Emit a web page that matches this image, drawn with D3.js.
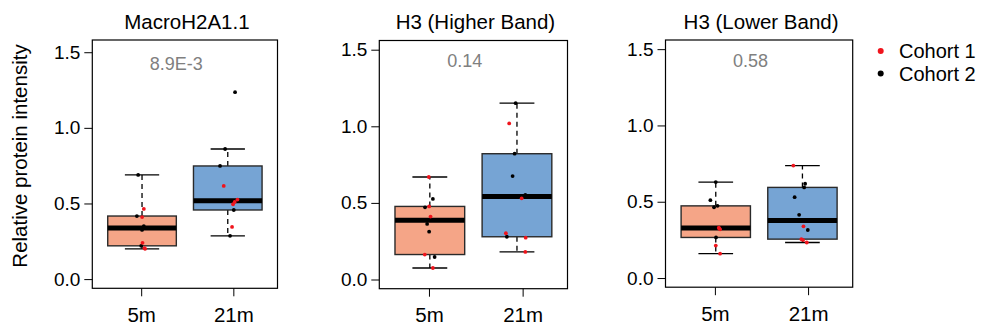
<!DOCTYPE html>
<html>
<head>
<meta charset="utf-8">
<script src="https://cdn.jsdelivr.net/npm/d3@7"></script>
<style>
  html, body { margin: 0; padding: 0; background: #fff; }
  svg { display: block; font-family: "Liberation Sans", Arial, Helvetica, sans-serif; }
</style>
</head>
<body>
<svg id="chart" width="992" height="331"></svg>
<script>
// ---------------- data ----------------
const panelTitles = ["MacroH2A1.1", "H3 (Higher Band)", "H3 (Lower Band)"];
const groups = ["5m", "21m"];
const pValueLabels = ["8.9E-3", "0.14", "0.58"];
const yTickValues = [0, 0.5, 1.0, 1.5];
const yLimMax = [1.52, 1.5, 1.5];
const legendLabels = ["Cohort 1", "Cohort 2"];
const cohortColors = ["#f0141c", "#000000"];
const boxFills = ["#f5a587", "#76a4d4"];

// MacroH2A1.1
const macro5mCohort1 = [0.464, 0.410, 0.240, 0.200, 0.204];
const macro5mCohort2 = [0.689, 0.417, 0.220, 0.350, 0.325];
const macro21mCohort1 = [0.616, 0.526, 0.510, 0.495, 0.345];
const macro21mCohort2 = [1.236, 0.860, 0.748, 0.457, 0.286];
// H3 (Higher Band)
const high5mCohort1 = [0.669, 0.477, 0.411, 0.163, 0.075];
const high5mCohort2 = [0.526, 0.471, 0.363, 0.312, 0.147];
const high21mCohort1 = [1.019, 0.530, 0.302, 0.273, 0.180];
const high21mCohort2 = [1.151, 0.821, 0.675, 0.552, 0.279];
// H3 (Lower Band)
const low5mCohort1 = [0.330, 0.319, 0.325, 0.213, 0.160];
const low5mCohort2 = [0.629, 0.510, 0.464, 0.473, 0.266];
const low21mCohort1 = [0.737, 0.339, 0.255, 0.249, 0.233];
const low21mCohort2 = [0.618, 0.594, 0.530, 0.414, 0.315];

// horizontal jitter of each point (x units)
const macro5mJitter1 = [0.021, 0.001, 0.006, 0.036, 0.029];
const macro5mJitter2 = [-0.045, -0.060, -0.010, 0.021, 0.000];
const macro21mJitter1 = [-0.047, 0.113, 0.081, 0.062, 0.050];
const macro21mJitter2 = [0.085, -0.031, -0.090, 0.070, 0.027];
const high5mJitter1 = [-0.012, -0.008, 0.008, -0.058, 0.035];
const high5mJitter2 = [0.035, -0.055, -0.031, -0.008, 0.055];
const high21mJitter1 = [-0.089, 0.054, -0.127, 0.100, 0.096];
const high21mJitter2 = [-0.015, -0.027, -0.050, 0.096, -0.116];
const low5mJitter1 = [0.035, 0.050, 0.040, 0.000, 0.050];
const low5mJitter2 = [0.000, -0.062, -0.020, 0.020, 0.003];
const low21mJitter1 = [-0.105, 0.012, -0.012, 0.008, 0.050];
const low21mJitter2 = [0.031, 0.020, -0.090, -0.038, 0.062];

const xTickAt = [0.99, 2.065];

const panelData = [
  [[macro5mCohort1, macro5mCohort2, macro5mJitter1, macro5mJitter2],
   [macro21mCohort1, macro21mCohort2, macro21mJitter1, macro21mJitter2]],
  [[high5mCohort1, high5mCohort2, high5mJitter1, high5mJitter2],
   [high21mCohort1, high21mCohort2, high21mJitter1, high21mJitter2]],
  [[low5mCohort1, low5mCohort2, low5mJitter1, low5mJitter2],
   [low21mCohort1, low21mCohort2, low21mJitter1, low21mJitter2]]
];

// ---------------- layout ----------------
const panels = [
  {left: 92.3, right: 277.5, top: 40, bottom: 288.3},
  {left: 379.3, right: 567.5, top: 40.5, bottom: 288.7},
  {left: 665.5, right: 852.7, top: 40, bottom: 287.2}
];

function fivenum(vals) {
  const x = vals.slice().sort(d3.ascending);
  const n = x.length;
  const n4 = Math.floor((n + 3) / 2) / 2;
  const d = [1, n4, (n + 1) / 2, n + 1 - n4, n];
  return d.map(di => 0.5 * (x[Math.floor(di) - 1] + x[Math.ceil(di) - 1]));
}
function boxStats(vals) {
  const f = fivenum(vals);
  const iqr = f[3] - f[1];
  const hiFence = f[3] + 1.5 * iqr, loFence = f[1] - 1.5 * iqr;
  const inside = vals.filter(v => v >= loFence && v <= hiFence);
  return {q1: f[1], med: f[2], q3: f[3], lo: d3.min(inside), hi: d3.max(inside)};
}

const svg = d3.select("#chart");
const font = '"Liberation Sans", Arial, Helvetica, sans-serif';

panels.forEach((p, pi) => {
  const r = yLimMax[pi];
  const y = d3.scaleLinear().domain([-0.04 * r, 1.04 * r]).range([p.bottom, p.top]);
  const x = d3.scaleLinear().domain([0.42, 2.58]).range([p.left, p.right]);
  const g = svg.append("g");

  // title
  g.append("text")
    .attr("x", (p.left + p.right) / 2 + 2).attr("y", 29)
    .attr("text-anchor", "middle").attr("font-size", 20.5).attr("fill", "#000")
    .text(panelTitles[pi]);

  // p-value
  g.append("text")
    .attr("x", x(1.4)).attr("y", y(1.385))
    .attr("text-anchor", "middle").attr("font-size", 18).attr("fill", "#808080")
    .text(pValueLabels[pi]);

  // y axis
  const ya = g.append("g").attr("transform", `translate(${p.left},0)`)
    .call(d3.axisLeft(y).tickValues(yTickValues).tickFormat(d3.format(".1f")).tickSize(8).tickPadding(4));
  ya.select(".domain").remove();
  ya.selectAll("line").attr("stroke", "#000").attr("stroke-width", 1);
  ya.selectAll("text").attr("font-size", 19).attr("font-family", font).attr("fill", "#000");

  // x axis
  const xa = g.append("g").attr("transform", `translate(0,${p.bottom})`)
    .call(d3.axisBottom(x).tickValues(xTickAt).tickFormat((d, i) => groups[i]).tickSize(8).tickPadding(11));
  xa.select(".domain").remove();
  xa.selectAll("line").attr("stroke", "#000").attr("stroke-width", 1);
  xa.selectAll("text").attr("font-size", 20.5).attr("font-family", font).attr("fill", "#000");

  // boxes
  panelData[pi].forEach((gd, gi) => {
    const pos = gi + 1;
    const all = gd[0].concat(gd[1]);
    const s = boxStats(all);
    const bw = 0.4, sw = 0.2;
    // whiskers (dashed)
    g.append("line").attr("x1", x(pos)).attr("x2", x(pos))
      .attr("y1", y(s.q3)).attr("y2", y(s.hi))
      .attr("stroke", "#000").attr("stroke-width", 1.3).attr("stroke-dasharray", "5,4");
    g.append("line").attr("x1", x(pos)).attr("x2", x(pos))
      .attr("y1", y(s.q1)).attr("y2", y(s.lo))
      .attr("stroke", "#000").attr("stroke-width", 1.3).attr("stroke-dasharray", "5,4");
    // staples
    [s.hi, s.lo].forEach(v => {
      g.append("line").attr("x1", x(pos - sw)).attr("x2", x(pos + sw))
        .attr("y1", y(v)).attr("y2", y(v))
        .attr("stroke", "#000").attr("stroke-width", 1.3);
    });
    // box
    g.append("rect")
      .attr("x", x(pos - bw)).attr("width", x(pos + bw) - x(pos - bw))
      .attr("y", y(s.q3)).attr("height", y(s.q1) - y(s.q3))
      .attr("fill", boxFills[gi]).attr("stroke", "#2a2a2a").attr("stroke-width", 1.4);
    // median
    g.append("line").attr("x1", x(pos - bw)).attr("x2", x(pos + bw))
      .attr("y1", y(s.med)).attr("y2", y(s.med))
      .attr("stroke", "#000").attr("stroke-width", 5);
    // points: cohort 2 (black), then cohort 1 (red)
    [1, 0].forEach(ci => {
      g.selectAll(null).data(gd[ci].map((v, k) => ({v, j: gd[ci + 2][k]})))
        .join("circle")
        .attr("cx", d => x(pos + d.j)).attr("cy", d => y(d.v))
        .attr("r", 1.9).attr("fill", cohortColors[ci]);
    });
  });

  // frame
  g.append("rect")
    .attr("x", p.left).attr("y", p.top)
    .attr("width", p.right - p.left).attr("height", p.bottom - p.top)
    .attr("fill", "none").attr("stroke", "#000").attr("stroke-width", 1.2);
});

// y label
svg.append("text")
  .attr("transform", "translate(27,156) rotate(-90)")
  .attr("text-anchor", "middle").attr("font-size", 20.5).attr("fill", "#000")
  .text("Relative protein intensity");

// legend
const lg = svg.append("g");
legendLabels.forEach((lab, i) => {
  lg.append("circle").attr("cx", 880.7).attr("cy", 51 + i * 22.5).attr("r", 3).attr("fill", cohortColors[i]);
  lg.append("text").attr("x", 899).attr("y", 58.3 + i * 22.5)
    .attr("font-size", 20).attr("fill", "#000").text(lab);
});
</script>
</body>
</html>
